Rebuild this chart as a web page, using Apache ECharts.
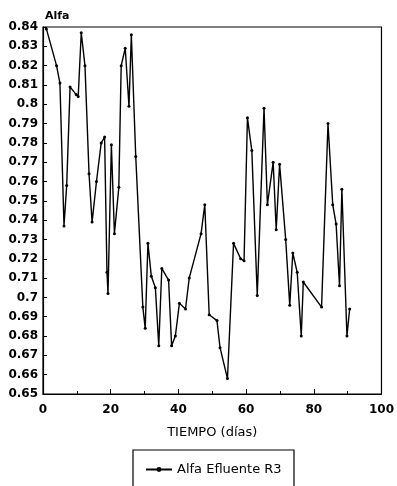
<!DOCTYPE html>
<html>
<head>
<meta charset="utf-8">
<script src="https://cdn.jsdelivr.net/npm/echarts@6/dist/echarts.min.js"></script>
<style>
html,body{margin:0;padding:0;background:#fff;}
#chart{width:397px;height:486px;}
</style>
</head>
<body>
<div id="chart"></div>
<script>
// Days (x) and Alfa values (y)
const dias = [1, 4, 5, 6.2, 7, 8, 9.8, 10.4, 11.3, 12.4, 13.6, 14.5, 15.8, 17.2, 18.2, 18.9, 19.2, 20.2, 21.1, 22.4, 23.1, 24.3, 25.4, 26.1, 27.4, 29.5, 30.2, 31, 32, 33.2, 34.2, 35.1, 37.1, 38, 39.1, 40.3, 42.1, 43.2, 46.7, 47.8, 49.1, 51.4, 52.3, 54.5, 56.3, 58.4, 59.4, 60.4, 61.7, 63.3, 65.3, 66.3, 68, 68.9, 69.9, 71.7, 72.9, 73.8, 75.1, 76.3, 76.9, 82.3, 84.2, 85.6, 86.6, 87.6, 88.3, 89.8, 90.6];
const alfa = [0.839, 0.820, 0.811, 0.737, 0.758, 0.809, 0.805, 0.804, 0.837, 0.820, 0.764, 0.739, 0.760, 0.780, 0.783, 0.713, 0.702, 0.779, 0.733, 0.757, 0.820, 0.829, 0.799, 0.836, 0.773, 0.695, 0.684, 0.728, 0.711, 0.705, 0.675, 0.715, 0.709, 0.675, 0.680, 0.697, 0.694, 0.710, 0.733, 0.748, 0.691, 0.688, 0.674, 0.658, 0.728, 0.720, 0.719, 0.793, 0.776, 0.701, 0.798, 0.748, 0.770, 0.735, 0.769, 0.730, 0.696, 0.723, 0.713, 0.680, 0.708, 0.695, 0.790, 0.748, 0.738, 0.706, 0.756, 0.680, 0.694];
const seriesName = 'Alfa Efluente R3';
const yTitle = 'Alfa';
const xTitle = 'TIEMPO (días)';

const data = dias.map((d, i) => [d, alfa[i]]);
const chart = echarts.init(document.getElementById('chart'));
const font = 'DejaVu Sans, sans-serif';
const txt = {fontSize: 12, fontWeight: 'bold', color: '#000', fontFamily: font};
chart.setOption({
  backgroundColor: '#fff',
  animation: false,
  grid: {left: 43, right: 14, top: 27, bottom: 92, show: true, borderColor: '#000', borderWidth: 1.2},
  title: {text: yTitle, left: 40, top: 6, textStyle: Object.assign({}, txt, {fontSize: 11})},
  xAxis: {
    type: 'value', min: 0, max: 100, interval: 20,
    name: xTitle, nameLocation: 'middle', nameGap: 32,
    nameTextStyle: Object.assign({}, txt, {fontWeight: 'normal', fontSize: 13}),
    axisLine: {show: true, onZero: false, lineStyle: {color: '#000', width: 1.2}},
    axisTick: {show: true, inside: true, length: 5, lineStyle: {color: '#000'}},
    minorTick: {show: true, splitNumber: 2, length: 3, lineStyle: {color: '#000'}},
    axisLabel: Object.assign({}, txt, {margin: 10}),
    splitLine: {show: false}
  },
  yAxis: {
    type: 'value', min: 0.65, max: 0.84, interval: 0.01,
    axisLine: {show: true, lineStyle: {color: '#000', width: 1.2}},
    axisTick: {show: true, inside: true, length: 4, lineStyle: {color: '#000'}},
    axisLabel: Object.assign({}, txt, {margin: 5,
      formatter: v => String(parseFloat(v.toFixed(2)))}),
    splitLine: {show: false}
  },
  legend: {
    data: [seriesName], left: 140, top: 458, itemWidth: 26, itemHeight: 6, itemGap: 4,
    textStyle: Object.assign({}, txt, {fontWeight: 'normal', fontSize: 13})
  },
  graphic: [{type: 'rect', shape: {x: 133, y: 450, width: 161, height: 50},
    style: {fill: 'none', stroke: '#000', lineWidth: 1.2}}],
  series: [{
    name: seriesName, type: 'line', data: data,
    symbol: 'circle', symbolSize: 3, showSymbol: true,
    lineStyle: {color: '#000', width: 1.4},
    itemStyle: {color: '#000'}
  }]
});
</script>
</body>
</html>
